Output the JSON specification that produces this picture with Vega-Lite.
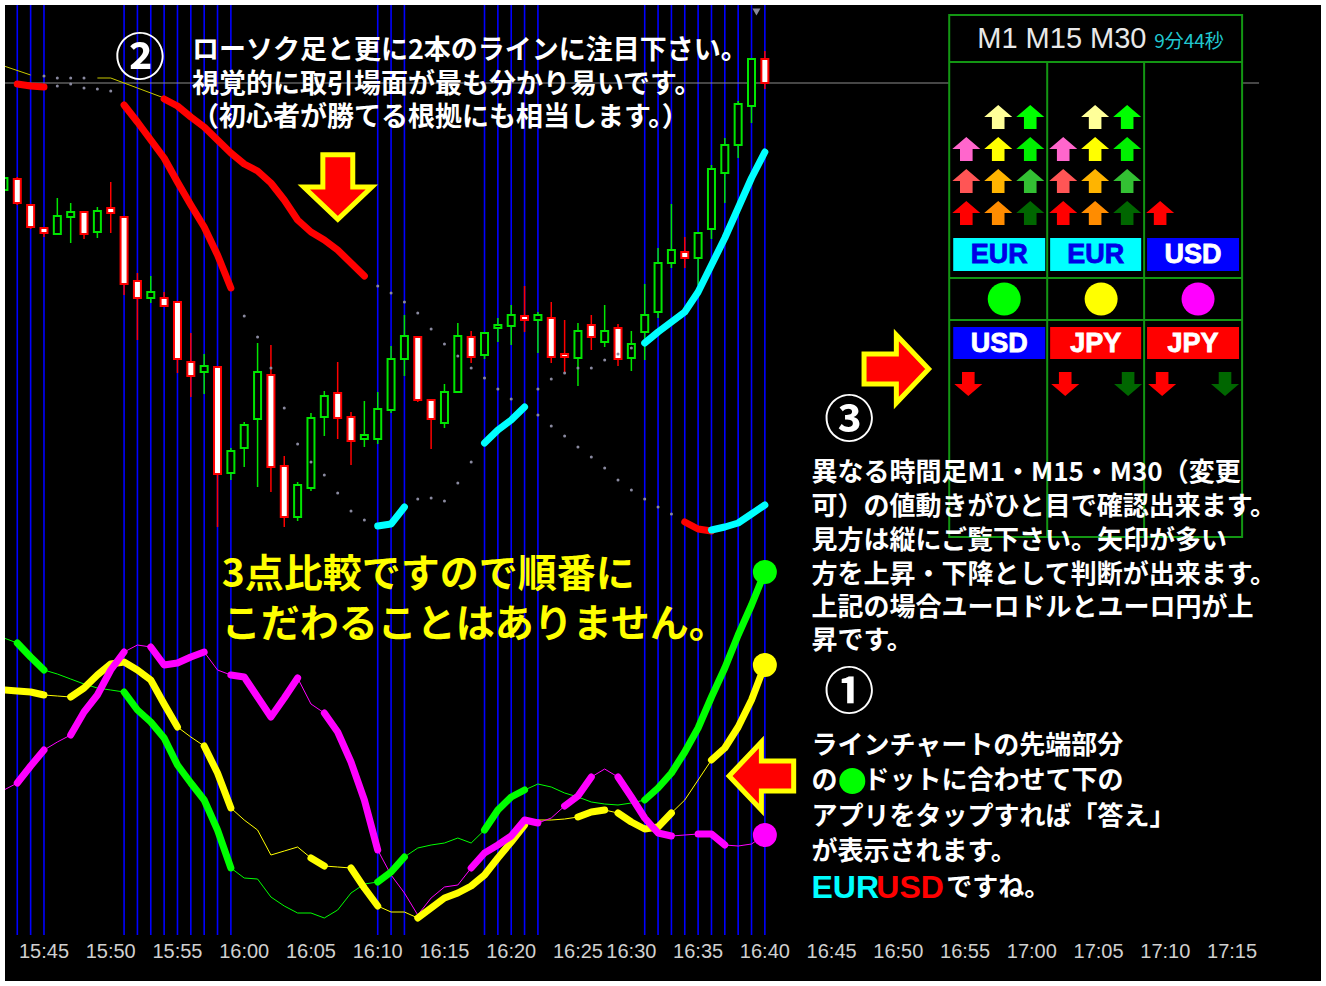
{
"$schema":"https://vega.github.io/schema/vega-lite/v6.json",
"width":1316,"height":976,
"autosize":"none",
"padding":5,
"background":"#ffffff",
"config":{"view":{"fill":"#000000","stroke":null},"legend":{"disable":true},"scale":{"continuousPadding":0}},
"datasets":{
"candles":[
{"i":-3,"o":1.08410,"h":1.08425,"l":1.08405,"c":1.08422},
{"i":-2,"o":1.08421,"h":1.08423,"l":1.08395,"c":1.08397},
{"i":-1,"o":1.08395,"h":1.08396,"l":1.08371,"c":1.08373},
{"i":0,"o":1.08372,"h":1.08373,"l":1.08363,"c":1.08367},
{"i":1,"o":1.08366,"h":1.08402,"l":1.08365,"c":1.08384},
{"i":2,"o":1.08383,"h":1.08397,"l":1.08357,"c":1.08388},
{"i":3,"o":1.08388,"h":1.08389,"l":1.08361,"c":1.08366},
{"i":4,"o":1.08368,"h":1.08393,"l":1.08362,"c":1.08389},
{"i":5,"o":1.08392,"h":1.08418,"l":1.08367,"c":1.08387},
{"i":6,"o":1.08383,"h":1.08384,"l":1.08305,"c":1.08316},
{"i":7,"o":1.08319,"h":1.08327,"l":1.08260,"c":1.08302},
{"i":8,"o":1.08302,"h":1.08324,"l":1.08297,"c":1.08308},
{"i":9,"o":1.08302,"h":1.08308,"l":1.08293,"c":1.08294},
{"i":10,"o":1.08298,"h":1.08299,"l":1.08227,"c":1.08241},
{"i":11,"o":1.08238,"h":1.08267,"l":1.08203,"c":1.08224},
{"i":12,"o":1.08228,"h":1.08246,"l":1.08206,"c":1.08234},
{"i":13,"o":1.08233,"h":1.08234,"l":1.08073,"c":1.08126},
{"i":14,"o":1.08127,"h":1.08152,"l":1.08120,"c":1.08149},
{"i":15,"o":1.08152,"h":1.08178,"l":1.08133,"c":1.08175},
{"i":16,"o":1.08181,"h":1.08257,"l":1.08113,"c":1.08228},
{"i":17,"o":1.08225,"h":1.08255,"l":1.08108,"c":1.08133},
{"i":18,"o":1.08134,"h":1.08144,"l":1.08073,"c":1.08083},
{"i":19,"o":1.08083,"h":1.08118,"l":1.08079,"c":1.08115},
{"i":20,"o":1.08112,"h":1.08187,"l":1.08109,"c":1.08182},
{"i":21,"o":1.08183,"h":1.08209,"l":1.08164,"c":1.08204},
{"i":22,"o":1.08207,"h":1.08238,"l":1.08161,"c":1.08182},
{"i":23,"o":1.08183,"h":1.08188,"l":1.08135,"c":1.08159},
{"i":24,"o":1.08161,"h":1.08199,"l":1.08153,"c":1.08165},
{"i":25,"o":1.08161,"h":1.08208,"l":1.08156,"c":1.08191},
{"i":26,"o":1.08190,"h":1.08254,"l":1.08187,"c":1.08241},
{"i":27,"o":1.08241,"h":1.08285,"l":1.08224,"c":1.08264},
{"i":28,"o":1.08263,"h":1.08264,"l":1.08198,"c":1.08200},
{"i":29,"o":1.08200,"h":1.08201,"l":1.08151,"c":1.08181},
{"i":30,"o":1.08177,"h":1.08216,"l":1.08172,"c":1.08208},
{"i":31,"o":1.08208,"h":1.08277,"l":1.08207,"c":1.08264},
{"i":32,"o":1.08263,"h":1.08269,"l":1.08237,"c":1.08243},
{"i":33,"o":1.08245,"h":1.08268,"l":1.08241,"c":1.08267},
{"i":34,"o":1.08272,"h":1.08282,"l":1.08258,"c":1.08275},
{"i":35,"o":1.08274,"h":1.08295,"l":1.08255,"c":1.08285},
{"i":36,"o":1.08284,"h":1.08314,"l":1.08268,"c":1.08280},
{"i":37,"o":1.08280,"h":1.08288,"l":1.08247,"c":1.08285},
{"i":38,"o":1.08282,"h":1.08298,"l":1.08237,"c":1.08243},
{"i":39,"o":1.08246,"h":1.08280,"l":1.08227,"c":1.08243},
{"i":40,"o":1.08242,"h":1.08277,"l":1.08214,"c":1.08269},
{"i":41,"o":1.08275,"h":1.08285,"l":1.08250,"c":1.08263},
{"i":42,"o":1.08258,"h":1.08295,"l":1.08253,"c":1.08269},
{"i":43,"o":1.08272,"h":1.08276,"l":1.08234,"c":1.08241},
{"i":44,"o":1.08242,"h":1.08269,"l":1.08229,"c":1.08256},
{"i":45,"o":1.08268,"h":1.08316,"l":1.08240,"c":1.08285},
{"i":46,"o":1.08288,"h":1.08352,"l":1.08282,"c":1.08337},
{"i":47,"o":1.08337,"h":1.08396,"l":1.08332,"c":1.08350},
{"i":48,"o":1.08348,"h":1.08363,"l":1.08332,"c":1.08342},
{"i":49,"o":1.08342,"h":1.08368,"l":1.08315,"c":1.08367},
{"i":50,"o":1.08371,"h":1.08435,"l":1.08361,"c":1.08431},
{"i":51,"o":1.08427,"h":1.08462,"l":1.08397,"c":1.08455},
{"i":52,"o":1.08455,"h":1.08499,"l":1.08442,"c":1.08496},
{"i":53,"o":1.08494,"h":1.08542,"l":1.08477,"c":1.08541},
{"i":54,"o":1.08541,"h":1.08549,"l":1.08511,"c":1.08517}
],
"bands":[
{"b":"A","i":0,"p":1.08524,"st":"flat"},{"b":"A","i":1,"p":1.08522,"st":"flat"},{"b":"A","i":2,"p":1.08522,"st":"flat"},{"b":"A","i":3,"p":1.08522,"st":"flat"},
{"b":"A","i":6,"p":1.08495,"st":"down","g":"A1"},{"b":"A","i":7,"p":1.08478,"st":"down","g":"A1"},{"b":"A","i":8,"p":1.08460,"st":"down","g":"A1"},{"b":"A","i":9,"p":1.08442,"st":"down","g":"A1"},{"b":"A","i":10,"p":1.08418,"st":"down","g":"A1"},{"b":"A","i":11,"p":1.08395,"st":"down","g":"A1"},{"b":"A","i":12,"p":1.08373,"st":"down","g":"A1"},{"b":"A","i":13,"p":1.08345,"st":"down","g":"A1"},{"b":"A","i":14,"p":1.08312,"st":"down","g":"A1"},
{"b":"A","i":15,"p":1.08284,"st":"flat"},{"b":"A","i":16,"p":1.08263,"st":"flat"},{"b":"A","i":17,"p":1.08232,"st":"flat"},{"b":"A","i":18,"p":1.08192,"st":"flat"},{"b":"A","i":19,"p":1.08156,"st":"flat"},{"b":"A","i":20,"p":1.08138,"st":"flat"},{"b":"A","i":21,"p":1.08125,"st":"flat"},{"b":"A","i":22,"p":1.08107,"st":"flat"},{"b":"A","i":23,"p":1.08089,"st":"flat"},{"b":"A","i":24,"p":1.08080,"st":"flat"},
{"b":"A","i":25,"p":1.08074,"st":"up","g":"A2"},{"b":"A","i":26,"p":1.08076,"st":"up","g":"A2"},{"b":"A","i":27,"p":1.08093,"st":"up","g":"A2"},
{"b":"A","i":28,"p":1.08101,"st":"flat"},{"b":"A","i":29,"p":1.08102,"st":"flat"},{"b":"A","i":30,"p":1.08099,"st":"flat"},{"b":"A","i":31,"p":1.08117,"st":"flat"},{"b":"A","i":32,"p":1.08138,"st":"flat"},
{"b":"A","i":33,"p":1.08157,"st":"up","g":"A3"},{"b":"A","i":34,"p":1.08170,"st":"up","g":"A3"},{"b":"A","i":35,"p":1.08180,"st":"up","g":"A3"},{"b":"A","i":36,"p":1.08193,"st":"up","g":"A3"},
{"b":"A","i":37,"p":1.08211,"st":"flat"},{"b":"A","i":38,"p":1.08221,"st":"flat"},{"b":"A","i":39,"p":1.08227,"st":"flat"},{"b":"A","i":40,"p":1.08232,"st":"flat"},{"b":"A","i":41,"p":1.08232,"st":"flat"},{"b":"A","i":42,"p":1.08240,"st":"flat"},{"b":"A","i":43,"p":1.08246,"st":"flat"},{"b":"A","i":44,"p":1.08252,"st":"flat"},
{"b":"A","i":45,"p":1.08257,"st":"up","g":"A4"},{"b":"A","i":46,"p":1.08268,"st":"up","g":"A4"},{"b":"A","i":47,"p":1.08278,"st":"up","g":"A4"},{"b":"A","i":48,"p":1.08288,"st":"up","g":"A4"},{"b":"A","i":49,"p":1.08308,"st":"up","g":"A4"},{"b":"A","i":50,"p":1.08335,"st":"up","g":"A4"},{"b":"A","i":51,"p":1.08362,"st":"up","g":"A4"},{"b":"A","i":52,"p":1.08392,"st":"up","g":"A4"},{"b":"A","i":53,"p":1.08422,"st":"up","g":"A4"},{"b":"A","i":54,"p":1.08448,"st":"up","g":"A4"},
{"b":"B","i":-2,"p":1.08516,"st":"down","g":"B0"},{"b":"B","i":-1,"p":1.08514,"st":"down","g":"B0"},{"b":"B","i":0,"p":1.08513,"st":"down","g":"B0"},
{"b":"B","i":1,"p":1.08514,"st":"flat"},{"b":"B","i":2,"p":1.08516,"st":"flat"},{"b":"B","i":3,"p":1.08512,"st":"flat"},{"b":"B","i":4,"p":1.08511,"st":"flat"},{"b":"B","i":5,"p":1.08509,"st":"flat"},
{"b":"B","i":9,"p":1.08501,"st":"down","g":"B1"},{"b":"B","i":10,"p":1.08494,"st":"down","g":"B1"},{"b":"B","i":11,"p":1.08483,"st":"down","g":"B1"},{"b":"B","i":12,"p":1.08473,"st":"down","g":"B1"},{"b":"B","i":13,"p":1.08460,"st":"down","g":"B1"},{"b":"B","i":14,"p":1.08447,"st":"down","g":"B1"},{"b":"B","i":15,"p":1.08436,"st":"down","g":"B1"},{"b":"B","i":16,"p":1.08429,"st":"down","g":"B1"},{"b":"B","i":17,"p":1.08417,"st":"down","g":"B1"},{"b":"B","i":18,"p":1.08400,"st":"down","g":"B1"},{"b":"B","i":19,"p":1.08380,"st":"down","g":"B1"},{"b":"B","i":20,"p":1.08368,"st":"down","g":"B1"},{"b":"B","i":21,"p":1.08360,"st":"down","g":"B1"},{"b":"B","i":22,"p":1.08350,"st":"down","g":"B1"},{"b":"B","i":23,"p":1.08337,"st":"down","g":"B1"},{"b":"B","i":24,"p":1.08324,"st":"down","g":"B1"},
{"b":"B","i":25,"p":1.08314,"st":"flat"},{"b":"B","i":26,"p":1.08307,"st":"flat"},{"b":"B","i":27,"p":1.08298,"st":"flat"},{"b":"B","i":28,"p":1.08287,"st":"flat"},{"b":"B","i":29,"p":1.08271,"st":"flat"},{"b":"B","i":30,"p":1.08256,"st":"flat"},{"b":"B","i":31,"p":1.08244,"st":"flat"},{"b":"B","i":32,"p":1.08232,"st":"flat"},{"b":"B","i":33,"p":1.08222,"st":"flat"},{"b":"B","i":34,"p":1.08211,"st":"flat"},{"b":"B","i":35,"p":1.08201,"st":"flat"},{"b":"B","i":36,"p":1.08193,"st":"flat"},{"b":"B","i":37,"p":1.08185,"st":"flat"},{"b":"B","i":38,"p":1.08174,"st":"flat"},{"b":"B","i":39,"p":1.08164,"st":"flat"},{"b":"B","i":40,"p":1.08153,"st":"flat"},{"b":"B","i":41,"p":1.08143,"st":"flat"},{"b":"B","i":42,"p":1.08132,"st":"flat"},{"b":"B","i":43,"p":1.08120,"st":"flat"},{"b":"B","i":44,"p":1.08110,"st":"flat"},{"b":"B","i":45,"p":1.08101,"st":"flat"},{"b":"B","i":46,"p":1.08093,"st":"flat"},{"b":"B","i":47,"p":1.08086,"st":"flat"},
{"b":"B","i":48,"p":1.08078,"st":"down","g":"B2"},{"b":"B","i":49,"p":1.08071,"st":"down","g":"B2"},{"b":"B","i":50,"p":1.08069,"st":"down","g":"B2"},
{"b":"B","i":50,"p":1.08070,"st":"up","g":"B3"},{"b":"B","i":51,"p":1.08073,"st":"up","g":"B3"},{"b":"B","i":52,"p":1.08077,"st":"up","g":"B3"},{"b":"B","i":53,"p":1.08086,"st":"up","g":"B3"},{"b":"B","i":54,"p":1.08095,"st":"up","g":"B3"},
{"b":"Y","i":-3,"p":1.08534,"st":"thin","g":"Y1"},{"b":"Y","i":-1,"p":1.08525,"st":"thin","g":"Y1"},
{"b":"Y","i":4,"p":1.08522,"st":"thin","g":"Y2"},{"b":"Y","i":5,"p":1.08522,"st":"thin","g":"Y2"},{"b":"Y","i":7,"p":1.08512,"st":"thin","g":"Y2"},{"b":"Y","i":9,"p":1.08502,"st":"thin","g":"Y2"}
],
"osc":[
{"s":"EURUSD","i":-3,"v":31.2},{"s":"EURUSD","i":-2,"v":30.7,"t":1},{"s":"EURUSD","i":-1,"v":29.3,"t":1},{"s":"EURUSD","i":0,"v":28.0,"t":1},{"s":"EURUSD","i":1,"v":27.6},{"s":"EURUSD","i":2,"v":27.1},{"s":"EURUSD","i":3,"v":26.6},{"s":"EURUSD","i":4,"v":26.2},{"s":"EURUSD","i":5,"v":26.0},
{"s":"EURUSD","i":6,"v":25.8,"t":2},{"s":"EURUSD","i":7,"v":24.0,"t":2},{"s":"EURUSD","i":8,"v":22.8,"t":2},{"s":"EURUSD","i":9,"v":21.2,"t":2},{"s":"EURUSD","i":10,"v":18.5,"t":2},{"s":"EURUSD","i":11,"v":16.7,"t":2},{"s":"EURUSD","i":12,"v":15.0,"t":2},{"s":"EURUSD","i":13,"v":12.0,"t":2},{"s":"EURUSD","i":14,"v":8.2,"t":2},
{"s":"EURUSD","i":15,"v":7.2},{"s":"EURUSD","i":16,"v":7.1},{"s":"EURUSD","i":17,"v":5.3},{"s":"EURUSD","i":18,"v":4.4},{"s":"EURUSD","i":19,"v":3.7},{"s":"EURUSD","i":20,"v":3.7},{"s":"EURUSD","i":21,"v":3.2},{"s":"EURUSD","i":22,"v":4.0},{"s":"EURUSD","i":23,"v":5.7},{"s":"EURUSD","i":24,"v":6.6},
{"s":"EURUSD","i":25,"v":6.8,"t":3},{"s":"EURUSD","i":26,"v":7.8,"t":3},{"s":"EURUSD","i":27,"v":9.3,"t":3},
{"s":"EURUSD","i":28,"v":10.2},{"s":"EURUSD","i":29,"v":10.5},{"s":"EURUSD","i":30,"v":10.7},{"s":"EURUSD","i":31,"v":11.2},{"s":"EURUSD","i":32,"v":10.7},
{"s":"EURUSD","i":33,"v":12.0,"t":4},{"s":"EURUSD","i":34,"v":14.0,"t":4},{"s":"EURUSD","i":35,"v":15.3,"t":4},{"s":"EURUSD","i":36,"v":16.0,"t":4},
{"s":"EURUSD","i":37,"v":16.6},{"s":"EURUSD","i":38,"v":16.3},{"s":"EURUSD","i":39,"v":15.7},{"s":"EURUSD","i":40,"v":15.3},{"s":"EURUSD","i":41,"v":14.8},{"s":"EURUSD","i":42,"v":14.6},{"s":"EURUSD","i":43,"v":14.5},{"s":"EURUSD","i":44,"v":14.7},
{"s":"EURUSD","i":45,"v":15.0,"t":5},{"s":"EURUSD","i":46,"v":16.2,"t":5},{"s":"EURUSD","i":47,"v":17.7,"t":5},{"s":"EURUSD","i":48,"v":19.8,"t":5},{"s":"EURUSD","i":49,"v":22.2,"t":5},{"s":"EURUSD","i":50,"v":25.3,"t":5},{"s":"EURUSD","i":51,"v":28.2,"t":5},{"s":"EURUSD","i":52,"v":31.5,"t":5},{"s":"EURUSD","i":53,"v":34.5,"t":5},{"s":"EURUSD","i":54,"v":37.8,"t":5},
{"s":"EURJPY","i":-3,"v":26.0,"t":1},{"s":"EURJPY","i":-2,"v":25.9,"t":1},{"s":"EURJPY","i":-1,"v":25.8,"t":1},{"s":"EURJPY","i":0,"v":25.5,"t":1},{"s":"EURJPY","i":1,"v":25.4},
{"s":"EURJPY","i":2,"v":25.3,"t":2},{"s":"EURJPY","i":3,"v":26.2,"t":2},{"s":"EURJPY","i":4,"v":27.5,"t":2},{"s":"EURJPY","i":5,"v":28.6,"t":2},{"s":"EURJPY","i":6,"v":28.8,"t":2},{"s":"EURJPY","i":7,"v":28.0,"t":2},{"s":"EURJPY","i":8,"v":27.0,"t":2},{"s":"EURJPY","i":9,"v":24.6,"t":2},{"s":"EURJPY","i":10,"v":22.3,"t":2},
{"s":"EURJPY","i":11,"v":21.3},
{"s":"EURJPY","i":12,"v":20.4,"t":3},{"s":"EURJPY","i":13,"v":17.7,"t":3},{"s":"EURJPY","i":14,"v":14.2,"t":3},
{"s":"EURJPY","i":15,"v":13.0},{"s":"EURJPY","i":16,"v":12.0},{"s":"EURJPY","i":17,"v":9.5},{"s":"EURJPY","i":18,"v":9.9},{"s":"EURJPY","i":19,"v":10.3},
{"s":"EURJPY","i":20,"v":9.2,"t":4},{"s":"EURJPY","i":21,"v":8.4,"t":4},
{"s":"EURJPY","i":22,"v":8.3},
{"s":"EURJPY","i":23,"v":8.2,"t":5},{"s":"EURJPY","i":24,"v":6.2,"t":5},{"s":"EURJPY","i":25,"v":4.4,"t":5},
{"s":"EURJPY","i":26,"v":3.8},{"s":"EURJPY","i":27,"v":3.8},
{"s":"EURJPY","i":28,"v":3.2,"t":6},{"s":"EURJPY","i":29,"v":4.2,"t":6},{"s":"EURJPY","i":30,"v":5.2,"t":6},{"s":"EURJPY","i":31,"v":5.7,"t":6},{"s":"EURJPY","i":32,"v":6.4,"t":6},{"s":"EURJPY","i":33,"v":7.5,"t":6},{"s":"EURJPY","i":34,"v":9.2,"t":6},{"s":"EURJPY","i":35,"v":10.8,"t":6},{"s":"EURJPY","i":36,"v":12.5,"t":6},
{"s":"EURJPY","i":37,"v":13.0},{"s":"EURJPY","i":38,"v":13.0},{"s":"EURJPY","i":39,"v":13.1},
{"s":"EURJPY","i":40,"v":13.3,"t":7},{"s":"EURJPY","i":41,"v":13.8,"t":7},{"s":"EURJPY","i":42,"v":14.0,"t":7},
{"s":"EURJPY","i":43,"v":13.7,"t":8},{"s":"EURJPY","i":44,"v":12.8,"t":8},{"s":"EURJPY","i":45,"v":12.1,"t":8},{"s":"EURJPY","i":46,"v":12.3,"t":8},{"s":"EURJPY","i":47,"v":13.7,"t":8},
{"s":"EURJPY","i":48,"v":15.0},{"s":"EURJPY","i":49,"v":17.0},
{"s":"EURJPY","i":50,"v":19.0,"t":9},{"s":"EURJPY","i":51,"v":20.2,"t":9},{"s":"EURJPY","i":52,"v":22.3,"t":9},{"s":"EURJPY","i":53,"v":25.0,"t":9},{"s":"EURJPY","i":54,"v":28.5,"t":9},
{"s":"USDJPY","i":-3,"v":16.0},
{"s":"USDJPY","i":-2,"v":16.7,"t":1},{"s":"USDJPY","i":-1,"v":18.4,"t":1},{"s":"USDJPY","i":0,"v":20.0,"t":1},
{"s":"USDJPY","i":1,"v":20.8},
{"s":"USDJPY","i":2,"v":21.5,"t":2},{"s":"USDJPY","i":3,"v":23.8,"t":2},{"s":"USDJPY","i":4,"v":25.5,"t":2},{"s":"USDJPY","i":5,"v":28.0,"t":2},{"s":"USDJPY","i":6,"v":29.8,"t":2},
{"s":"USDJPY","i":7,"v":30.5},
{"s":"USDJPY","i":8,"v":30.3,"t":3},{"s":"USDJPY","i":9,"v":28.5,"t":3},{"s":"USDJPY","i":10,"v":28.7,"t":3},{"s":"USDJPY","i":11,"v":29.3,"t":3},{"s":"USDJPY","i":12,"v":29.8,"t":3},
{"s":"USDJPY","i":13,"v":28.0},
{"s":"USDJPY","i":14,"v":27.5,"t":4},{"s":"USDJPY","i":15,"v":27.3,"t":4},{"s":"USDJPY","i":16,"v":25.3,"t":4},{"s":"USDJPY","i":17,"v":23.3,"t":4},{"s":"USDJPY","i":18,"v":25.2,"t":4},{"s":"USDJPY","i":19,"v":27.2,"t":4},
{"s":"USDJPY","i":20,"v":24.6},
{"s":"USDJPY","i":21,"v":23.7,"t":5},{"s":"USDJPY","i":22,"v":21.8,"t":5},{"s":"USDJPY","i":23,"v":18.8,"t":5},{"s":"USDJPY","i":24,"v":15.0,"t":5},{"s":"USDJPY","i":25,"v":10.0,"t":5},
{"s":"USDJPY","i":26,"v":7.5},{"s":"USDJPY","i":27,"v":5.7},{"s":"USDJPY","i":28,"v":3.5},{"s":"USDJPY","i":29,"v":5.2},{"s":"USDJPY","i":30,"v":6.3},{"s":"USDJPY","i":31,"v":6.5},
{"s":"USDJPY","i":32,"v":8.2,"t":6},{"s":"USDJPY","i":33,"v":9.7,"t":6},{"s":"USDJPY","i":34,"v":10.5,"t":6},{"s":"USDJPY","i":35,"v":11.4,"t":6},{"s":"USDJPY","i":36,"v":13.0,"t":6},{"s":"USDJPY","i":37,"v":12.7,"t":6},
{"s":"USDJPY","i":38,"v":13.2},
{"s":"USDJPY","i":39,"v":14.4,"t":7},{"s":"USDJPY","i":40,"v":15.4,"t":7},{"s":"USDJPY","i":41,"v":17.3,"t":7},
{"s":"USDJPY","i":42,"v":18.1},
{"s":"USDJPY","i":43,"v":17.3,"t":8},{"s":"USDJPY","i":44,"v":15.3,"t":8},{"s":"USDJPY","i":45,"v":13.2,"t":8},{"s":"USDJPY","i":46,"v":11.7,"t":8},{"s":"USDJPY","i":47,"v":11.4,"t":8},
{"s":"USDJPY","i":48,"v":11.5},
{"s":"USDJPY","i":49,"v":11.6,"t":9},{"s":"USDJPY","i":50,"v":11.6,"t":9},{"s":"USDJPY","i":51,"v":10.5,"t":9},
{"s":"USDJPY","i":52,"v":10.4},{"s":"USDJPY","i":53,"v":10.6},{"s":"USDJPY","i":54,"v":11.5}
],
"vlines":[{"i":-2},{"i":-1},{"i":0},{"i":6},{"i":7},{"i":8},{"i":9},{"i":10},{"i":11},{"i":12},{"i":13},{"i":14},{"i":25},{"i":26},{"i":27},{"i":33},{"i":34},{"i":35},{"i":36},{"i":37},{"i":45},{"i":46},{"i":47},{"i":48},{"i":49},{"i":50},{"i":51},{"i":52},{"i":53},{"i":54}],
"ticks":[{"i":0,"lab":"15:45"},{"i":5,"lab":"15:50"},{"i":10,"lab":"15:55"},{"i":15,"lab":"16:00"},{"i":20,"lab":"16:05"},{"i":25,"lab":"16:10"},{"i":30,"lab":"16:15"},{"i":35,"lab":"16:20"},{"i":40,"lab":"16:25"},{"i":44,"lab":"16:30"},{"i":49,"lab":"16:35"},{"i":54,"lab":"16:40"},{"i":59,"lab":"16:45"},{"i":64,"lab":"16:50"},{"i":69,"lab":"16:55"},{"i":74,"lab":"17:00"},{"i":79,"lab":"17:05"},{"i":84,"lab":"17:10"},{"i":89,"lab":"17:15"}]
},
"layer":[
{
"layer":[
{"data":{"name":"vlines"},"mark":{"type":"rule","color":"#0000ff","strokeWidth":1.6},
 "encoding":{"x":{"field":"i","type":"quantitative","scale":{"domain":[-2.92,95.66],"nice":false,"zero":false,"padding":0},"axis":null},
 "y":{"datum":1.08595,"type":"quantitative","scale":{"domain":[1.07619,1.08595],"nice":false,"zero":false},"axis":null},"y2":{"datum":1.07665}}},
{"data":{"values":[{"i0":-2.92,"i1":91.02,"p":1.08517}]},"mark":{"type":"rule","color":"#8c8c8c","strokeWidth":1},
 "encoding":{"x":{"field":"i0","type":"quantitative","scale":{"domain":[-2.92,95.66],"nice":false,"zero":false,"padding":0},"axis":null},"x2":{"field":"i1"},
 "y":{"field":"p","type":"quantitative","scale":{"domain":[1.07619,1.08595],"nice":false,"zero":false},"axis":null}}},
{"data":{"name":"candles"},"transform":[{"calculate":"datum.c >= datum.o ? 'up' : 'down'","as":"dir"}],
 "mark":{"type":"rule","strokeWidth":1.5,"clip":true},
 "encoding":{"x":{"field":"i","type":"quantitative","scale":{"domain":[-2.92,95.66],"nice":false,"zero":false,"padding":0},"axis":null},
 "y":{"field":"h","type":"quantitative","scale":{"domain":[1.07619,1.08595],"nice":false,"zero":false},"axis":null},"y2":{"field":"l"},
 "color":{"field":"dir","type":"nominal","scale":{"domain":["up","down"],"range":["#00e600","#ff0000"]},"legend":null}}},
{"data":{"name":"candles"},"transform":[{"calculate":"datum.c >= datum.o ? 'up' : 'down'","as":"dir"}],
 "mark":{"type":"bar","size":7,"strokeWidth":2,"clip":true},
 "encoding":{"x":{"field":"i","type":"quantitative","scale":{"domain":[-2.92,95.66],"nice":false,"zero":false,"padding":0},"axis":null},
 "y":{"field":"o","type":"quantitative","scale":{"domain":[1.07619,1.08595],"nice":false,"zero":false},"axis":null},"y2":{"field":"c"},
 "fill":{"field":"dir","type":"nominal","scale":{"domain":["up","down"],"range":["#000000","#ffffff"]},"legend":null},
 "stroke":{"field":"dir","type":"nominal","scale":{"domain":["up","down"],"range":["#00e600","#ff0000"]},"legend":null}}},
{"data":{"name":"bands"},"transform":[{"filter":"datum.st == 'flat'"}],"mark":{"type":"point","filled":true,"size":9,"opacity":1,"color":"#8a8aa0"},
 "encoding":{"x":{"field":"i","type":"quantitative","scale":{"domain":[-2.92,95.66],"nice":false,"zero":false,"padding":0},"axis":null},
 "y":{"field":"p","type":"quantitative","scale":{"domain":[1.07619,1.08595],"nice":false,"zero":false},"axis":null}}},
{"data":{"name":"bands"},"transform":[{"filter":"datum.st == 'thin'"}],"mark":{"type":"line","strokeWidth":1,"color":"#c8c800","clip":true},
 "encoding":{"x":{"field":"i","type":"quantitative","scale":{"domain":[-2.92,95.66],"nice":false,"zero":false,"padding":0},"axis":null},
 "y":{"field":"p","type":"quantitative","scale":{"domain":[1.07619,1.08595],"nice":false,"zero":false},"axis":null},"detail":{"field":"g"}}},
{"data":{"name":"bands"},"transform":[{"filter":"datum.st == 'down' || datum.st == 'up'"}],"mark":{"type":"line","strokeWidth":7,"strokeCap":"round","strokeJoin":"round","clip":true},
 "encoding":{"x":{"field":"i","type":"quantitative","scale":{"domain":[-2.92,95.66],"nice":false,"zero":false,"padding":0},"axis":null},
 "y":{"field":"p","type":"quantitative","scale":{"domain":[1.07619,1.08595],"nice":false,"zero":false},"axis":null},"detail":{"field":"g"},
 "color":{"field":"st","type":"nominal","scale":{"domain":["down","up"],"range":["#ff0000","#00ffff"]},"legend":null}}}
],
"resolve":{"scale":{"color":"independent","fill":"independent","stroke":"independent"}}
},
{
"data":{"name":"osc"},
"layer":[
{"mark":{"type":"line","strokeWidth":1,"clip":true},
 "encoding":{"x":{"field":"i","type":"quantitative","scale":{"domain":[-2.92,95.66],"nice":false,"zero":false,"padding":0},"axis":null},
 "y":{"field":"v","type":"quantitative","scale":{"domain":[-3.1,94.5],"nice":false,"zero":false},"axis":null},
 "color":{"field":"s","type":"nominal","scale":{"domain":["EURUSD","EURJPY","USDJPY"],"range":["#00ff00","#ffff00","#ff00ff"]},"legend":null}}},
{"transform":[{"filter":"isValid(datum.t)"}],"mark":{"type":"line","strokeWidth":7,"strokeCap":"round","strokeJoin":"round","clip":true},
 "encoding":{"x":{"field":"i","type":"quantitative","scale":{"domain":[-2.92,95.66],"nice":false,"zero":false,"padding":0},"axis":null},
 "y":{"field":"v","type":"quantitative","scale":{"domain":[-3.1,94.5],"nice":false,"zero":false},"axis":null},
 "detail":{"field":"t","type":"nominal"},
 "color":{"field":"s","type":"nominal","scale":{"domain":["EURUSD","EURJPY","USDJPY"],"range":["#00ff00","#ffff00","#ff00ff"]},"legend":null}}},
{"transform":[{"filter":"datum.i == 54"}],"mark":{"type":"point","filled":true,"size":576,"opacity":1},
 "encoding":{"x":{"field":"i","type":"quantitative","scale":{"domain":[-2.92,95.66],"nice":false,"zero":false,"padding":0},"axis":null},
 "y":{"field":"v","type":"quantitative","scale":{"domain":[-3.1,94.5],"nice":false,"zero":false},"axis":null},
 "color":{"field":"s","type":"nominal","scale":{"domain":["EURUSD","EURJPY","USDJPY"],"range":["#00ff00","#ffff00","#ff00ff"]},"legend":null}}}
]
},
{
"layer":[
{"data":{"values":[{"i":22.01,"p":1.08413,"dir":"down"},{"i":63.85,"p":1.08231,"dir":"right"},{"i":53.74,"p":1.07824,"dir":"left"}]},
 "mark":{"type":"point","filled":true,"size":4624,"fill":"#ff0000","stroke":"#ffff00","strokeWidth":5,"opacity":1,"fillOpacity":1,"strokeOpacity":1},
 "encoding":{"x":{"field":"i","type":"quantitative","scale":{"domain":[-2.92,95.66],"nice":false,"zero":false,"padding":0},"axis":null},
 "y":{"field":"p","type":"quantitative","scale":{"domain":[1.07619,1.08595],"nice":false,"zero":false},"axis":null},
 "shape":{"field":"dir","type":"nominal","scale":{"domain":["down","right","left"],"range":["M-0.44,-0.95L0.44,-0.95L0.44,0L1,0L0,0.95L-1,0L-0.44,0Z","M-0.95,-0.44L0,-0.44L0,-1L0.95,0L0,1L0,0.44L-0.95,0.44Z","M0.95,-0.44L0,-0.44L0,-1L-0.95,0L0,1L0,0.44L0.95,0.44Z"]},"legend":null}}},
{"data":{"values":[{"x1":67.81,"x2":89.75,"p1":1.08585,"p2":1.08063}]},
 "mark":{"type":"rect","fill":"#000000","stroke":"#139613","strokeWidth":2},
 "encoding":{"x":{"field":"x1","type":"quantitative","scale":{"domain":[-2.92,95.66],"nice":false,"zero":false,"padding":0},"axis":null},"x2":{"field":"x2"},
 "y":{"field":"p1","type":"quantitative","scale":{"domain":[1.07619,1.08595],"nice":false,"zero":false},"axis":null},"y2":{"field":"p2"}}},
{"data":{"values":[{"x1":67.81,"x2":89.75,"p1":1.08538,"p2":1.08538},{"x1":67.81,"x2":89.75,"p1":1.08322,"p2":1.08322},{"x1":67.81,"x2":89.75,"p1":1.08280,"p2":1.08280},{"x1":75.15,"x2":75.15,"p1":1.08538,"p2":1.08063},{"x1":82.41,"x2":82.41,"p1":1.08538,"p2":1.08063}]},
 "mark":{"type":"rule","color":"#139613","strokeWidth":2},
 "encoding":{"x":{"field":"x1","type":"quantitative","scale":{"domain":[-2.92,95.66],"nice":false,"zero":false,"padding":0},"axis":null},"x2":{"field":"x2"},
 "y":{"field":"p1","type":"quantitative","scale":{"domain":[1.07619,1.08595],"nice":false,"zero":false},"axis":null},"y2":{"field":"p2"}}},
{"data":{"values":[{"i":69.91,"p":1.08561,"txt":"M1 M15 M30"}]},
 "mark":{"type":"text","align":"left","baseline":"middle","font":"Liberation Sans","fontSize":29,"color":"#e8e8e8"},
 "encoding":{"x":{"field":"i","type":"quantitative","scale":{"domain":[-2.92,95.66],"nice":false,"zero":false,"padding":0},"axis":null},
 "y":{"field":"p","type":"quantitative","scale":{"domain":[1.07619,1.08595],"nice":false,"zero":false},"axis":null},"text":{"field":"txt"}}},
{"data":{"values":[{"i":83.16,"p":1.08558,"txt":"9分44秒"}]},
 "mark":{"type":"text","align":"left","baseline":"middle","font":"Noto Sans CJK JP","fontSize":19,"color":"#20c8d0"},
 "encoding":{"x":{"field":"i","type":"quantitative","scale":{"domain":[-2.92,95.66],"nice":false,"zero":false,"padding":0},"axis":null},
 "y":{"field":"p","type":"quantitative","scale":{"domain":[1.07619,1.08595],"nice":false,"zero":false},"axis":null},"text":{"field":"txt"}}},
{"data":{"values":[{"cur":"EUR","x1":68.11,"x2":75.0,"p1":1.08362,"p2":1.08329},{"cur":"EUR","x1":75.37,"x2":82.19,"p1":1.08362,"p2":1.08329},{"cur":"USD","x1":82.63,"x2":89.52,"p1":1.08362,"p2":1.08329},{"cur":"USD","x1":68.11,"x2":75.0,"p1":1.08273,"p2":1.08241},{"cur":"JPY","x1":75.37,"x2":82.19,"p1":1.08273,"p2":1.08241},{"cur":"JPY","x1":82.63,"x2":89.52,"p1":1.08273,"p2":1.08241}]},
 "mark":{"type":"rect"},
 "encoding":{"x":{"field":"x1","type":"quantitative","scale":{"domain":[-2.92,95.66],"nice":false,"zero":false,"padding":0},"axis":null},"x2":{"field":"x2"},
 "y":{"field":"p1","type":"quantitative","scale":{"domain":[1.07619,1.08595],"nice":false,"zero":false},"axis":null},"y2":{"field":"p2"},
 "color":{"field":"cur","type":"nominal","scale":{"domain":["EUR","USD","JPY"],"range":["#00ffff","#0000ff","#ff0000"]},"legend":null}}},
{"data":{"values":[{"cur":"EUR","i":71.56,"p":1.08345},{"cur":"EUR","i":78.78,"p":1.08345},{"cur":"USD","i":86.08,"p":1.08345},{"cur":"USD","i":71.56,"p":1.08256},{"cur":"JPY","i":78.78,"p":1.08256},{"cur":"JPY","i":86.08,"p":1.08256}]},
 "mark":{"type":"text","align":"center","baseline":"middle","font":"Liberation Sans","fontSize":27,"fontWeight":"bold","strokeWidth":0.8},
 "encoding":{"x":{"field":"i","type":"quantitative","scale":{"domain":[-2.92,95.66],"nice":false,"zero":false,"padding":0},"axis":null},
 "y":{"field":"p","type":"quantitative","scale":{"domain":[1.07619,1.08595],"nice":false,"zero":false},"axis":null},"text":{"field":"cur"},
 "fill":{"field":"cur","type":"nominal","scale":{"domain":["EUR","USD","JPY"],"range":["#0000e6","#ffffff","#ffffff"]},"legend":null},
 "stroke":{"field":"cur","type":"nominal","scale":{"domain":["EUR","USD","JPY"],"range":["#0000e6","#ffffff","#ffffff"]},"legend":null}}},
{"data":{"values":[{"pair":"EURUSD","i":71.93,"p":1.08301},{"pair":"EURJPY","i":79.19,"p":1.08301},{"pair":"USDJPY","i":86.45,"p":1.08301}]},
 "mark":{"type":"point","filled":true,"size":1089,"opacity":1},
 "encoding":{"x":{"field":"i","type":"quantitative","scale":{"domain":[-2.92,95.66],"nice":false,"zero":false,"padding":0},"axis":null},
 "y":{"field":"p","type":"quantitative","scale":{"domain":[1.07619,1.08595],"nice":false,"zero":false},"axis":null},
 "color":{"field":"pair","type":"nominal","scale":{"domain":["EURUSD","EURJPY","USDJPY"],"range":["#00ff00","#ffff00","#ff00ff"]},"legend":null}}},
{"data":{"values":[
 {"i":71.48,"p":1.08483,"tone":"M15-1","dir":"up"},{"i":73.88,"p":1.08483,"tone":"M30-1","dir":"up"},
 {"i":69.09,"p":1.08451,"tone":"M1-2","dir":"up"},{"i":71.48,"p":1.08451,"tone":"M15-2","dir":"up"},{"i":73.88,"p":1.08451,"tone":"M30-2","dir":"up"},
 {"i":69.09,"p":1.08419,"tone":"M1-3","dir":"up"},{"i":71.48,"p":1.08419,"tone":"M15-3","dir":"up"},{"i":73.88,"p":1.08419,"tone":"M30-3","dir":"up"},
 {"i":69.09,"p":1.08387,"tone":"M1-4","dir":"up"},{"i":71.48,"p":1.08387,"tone":"M15-4","dir":"up"},{"i":73.88,"p":1.08387,"tone":"M30-4","dir":"up"},
 {"i":78.74,"p":1.08483,"tone":"M15-1","dir":"up"},{"i":81.14,"p":1.08483,"tone":"M30-1","dir":"up"},
 {"i":76.35,"p":1.08451,"tone":"M1-2","dir":"up"},{"i":78.74,"p":1.08451,"tone":"M15-2","dir":"up"},{"i":81.14,"p":1.08451,"tone":"M30-2","dir":"up"},
 {"i":76.35,"p":1.08419,"tone":"M1-3","dir":"up"},{"i":78.74,"p":1.08419,"tone":"M15-3","dir":"up"},{"i":81.14,"p":1.08419,"tone":"M30-3","dir":"up"},
 {"i":76.35,"p":1.08387,"tone":"M1-4","dir":"up"},{"i":78.74,"p":1.08387,"tone":"M15-4","dir":"up"},{"i":81.14,"p":1.08387,"tone":"M30-4","dir":"up"},
 {"i":83.61,"p":1.08387,"tone":"M1-4","dir":"up"},
 {"i":69.24,"p":1.08216,"tone":"M1-4","dir":"down"},{"i":76.50,"p":1.08216,"tone":"M1-4","dir":"down"},{"i":81.21,"p":1.08216,"tone":"M30-4","dir":"down"},{"i":83.76,"p":1.08216,"tone":"M1-4","dir":"down"},{"i":88.47,"p":1.08216,"tone":"M30-4","dir":"down"}
 ]},
 "mark":{"type":"point","filled":true,"size":784,"opacity":1},
 "encoding":{"x":{"field":"i","type":"quantitative","scale":{"domain":[-2.92,95.66],"nice":false,"zero":false,"padding":0},"axis":null},
 "y":{"field":"p","type":"quantitative","scale":{"domain":[1.07619,1.08595],"nice":false,"zero":false},"axis":null},
 "shape":{"field":"dir","type":"nominal","scale":{"domain":["up","down"],"range":["M0,-0.85L1,0L0.45,0L0.45,0.85L-0.45,0.85L-0.45,0L-1,0Z","M0,0.85L1,0L0.45,0L0.45,-0.85L-0.45,-0.85L-0.45,0L-1,0Z"]},"legend":null},
 "color":{"field":"tone","type":"nominal","scale":{"domain":["M1-2","M1-3","M1-4","M15-1","M15-2","M15-3","M15-4","M30-1","M30-2","M30-3","M30-4"],"range":["#ff66cc","#ff5555","#ff0000","#ffff99","#ffff00","#ffb400","#ff8c00","#00ff00","#00f000","#33c033","#006600"]},"legend":null}}},
{"data":{"values":[
 {"i":11.08,"p":1.08549,"txt":"ローソク足と更に2本のラインに注目下さい。"},
 {"i":11.08,"p":1.08515,"txt":"視覚的に取引場面が最も分かり易いです。"},
 {"i":11.08,"p":1.08482,"txt":"（初心者が勝てる根拠にも相当します。）"}
 ]},
 "mark":{"type":"text","align":"left","baseline":"middle","font":"Noto Sans CJK JP","fontSize":27,"fontWeight":"bold","color":"#ffffff"},
 "encoding":{"x":{"field":"i","type":"quantitative","scale":{"domain":[-2.92,95.66],"nice":false,"zero":false,"padding":0},"axis":null},
 "y":{"field":"p","type":"quantitative","scale":{"domain":[1.07619,1.08595],"nice":false,"zero":false},"axis":null},"text":{"field":"txt"}}},
{"data":{"values":[
 {"i":57.49,"p":1.08127,"txt":"異なる時間足M1・M15・M30（変更"},
 {"i":57.49,"p":1.08093,"txt":"可）の値動きがひと目で確認出来ます。"},
 {"i":57.49,"p":1.08059,"txt":"見方は縦にご覧下さい。矢印が多い"},
 {"i":57.49,"p":1.08025,"txt":"方を上昇・下降として判断が出来ます。"},
 {"i":57.49,"p":1.07992,"txt":"上記の場合ユーロドルとユーロ円が上"},
 {"i":57.49,"p":1.07959,"txt":"昇です。"},
 {"i":57.49,"p":1.07854,"txt":"ラインチャートの先端部分"},
 {"i":57.49,"p":1.07819,"txt":"の　ドットに合わせて下の"},
 {"i":57.49,"p":1.07783,"txt":"アプリをタップすれば「答え」"},
 {"i":57.49,"p":1.07748,"txt":"が表示されます。"},
 {"i":67.59,"p":1.07712,"txt":"ですね。"}
 ]},
 "mark":{"type":"text","align":"left","baseline":"middle","font":"Noto Sans CJK JP","fontSize":26,"fontWeight":"bold","color":"#ffffff"},
 "encoding":{"x":{"field":"i","type":"quantitative","scale":{"domain":[-2.92,95.66],"nice":false,"zero":false,"padding":0},"axis":null},
 "y":{"field":"p","type":"quantitative","scale":{"domain":[1.07619,1.08595],"nice":false,"zero":false},"axis":null},"text":{"field":"txt"}}},
{"data":{"values":[{"i":7.19,"p":1.08540,"txt":"②"},{"i":60.33,"p":1.08178,"txt":"③"},{"i":60.33,"p":1.07906,"txt":"①"}]},
 "mark":{"type":"text","align":"center","baseline":"middle","font":"Noto Sans CJK JP","fontSize":50,"fontWeight":"bold","color":"#ffffff"},
 "encoding":{"x":{"field":"i","type":"quantitative","scale":{"domain":[-2.92,95.66],"nice":false,"zero":false,"padding":0},"axis":null},
 "y":{"field":"p","type":"quantitative","scale":{"domain":[1.07619,1.08595],"nice":false,"zero":false},"axis":null},"text":{"field":"txt"}}},
{"data":{"values":[{"i":13.32,"p":1.08025,"txt":"3点比較ですので順番に"},{"i":13.32,"p":1.07975,"txt":"こだわることはありません。"}]},
 "mark":{"type":"text","align":"left","baseline":"middle","font":"Noto Sans CJK JP","fontSize":39,"fontWeight":"bold","color":"#ffff00"},
 "encoding":{"x":{"field":"i","type":"quantitative","scale":{"domain":[-2.92,95.66],"nice":false,"zero":false,"padding":0},"axis":null},
 "y":{"field":"p","type":"quantitative","scale":{"domain":[1.07619,1.08595],"nice":false,"zero":false},"axis":null},"text":{"field":"txt"}}},
{"data":{"values":[{"i":60.55,"p":1.07819}]},
 "mark":{"type":"point","filled":true,"size":676,"opacity":1,"color":"#00ff00"},
 "encoding":{"x":{"field":"i","type":"quantitative","scale":{"domain":[-2.92,95.66],"nice":false,"zero":false,"padding":0},"axis":null},
 "y":{"field":"p","type":"quantitative","scale":{"domain":[1.07619,1.08595],"nice":false,"zero":false},"axis":null}}},
{"data":{"values":[{"cur":"EUR","i":57.49,"p":1.07712},{"cur":"USD","i":62.35,"p":1.07712}]},
 "mark":{"type":"text","align":"left","baseline":"middle","font":"Liberation Sans","fontSize":32,"fontWeight":"bold"},
 "encoding":{"x":{"field":"i","type":"quantitative","scale":{"domain":[-2.92,95.66],"nice":false,"zero":false,"padding":0},"axis":null},
 "y":{"field":"p","type":"quantitative","scale":{"domain":[1.07619,1.08595],"nice":false,"zero":false},"axis":null},"text":{"field":"cur"},
 "color":{"field":"cur","type":"nominal","scale":{"domain":["EUR","USD"],"range":["#00ffff","#ff0000"]},"legend":null}}},
{"data":{"name":"ticks"},
 "mark":{"type":"text","align":"center","baseline":"middle","font":"Liberation Sans","fontSize":20,"color":"#d0d0d0"},
 "encoding":{"x":{"field":"i","type":"quantitative","scale":{"domain":[-2.92,95.66],"nice":false,"zero":false,"padding":0},"axis":null},
 "y":{"datum":1.07648,"type":"quantitative","scale":{"domain":[1.07619,1.08595],"nice":false,"zero":false},"axis":null},"text":{"field":"lab"}}},
{"data":{"values":[{"i":53.37,"p":1.08588}]},
 "mark":{"type":"point","shape":"triangle-down","filled":true,"size":64,"opacity":1,"color":"#8a8a9a"},
 "encoding":{"x":{"field":"i","type":"quantitative","scale":{"domain":[-2.92,95.66],"nice":false,"zero":false,"padding":0},"axis":null},
 "y":{"field":"p","type":"quantitative","scale":{"domain":[1.07619,1.08595],"nice":false,"zero":false},"axis":null}}}
],
"resolve":{"scale":{"color":"independent","shape":"independent","fill":"independent","stroke":"independent"}}
}
],
"resolve":{"scale":{"y":"independent","color":"independent","fill":"independent","stroke":"independent","shape":"independent"}}
}
